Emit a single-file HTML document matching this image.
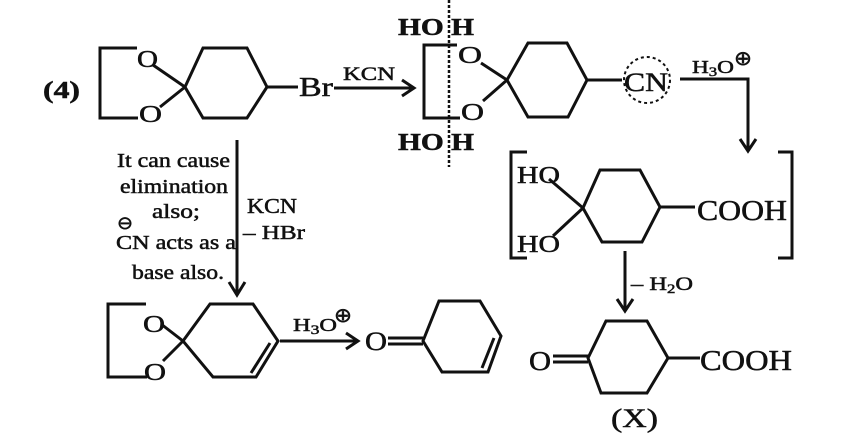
<!DOCTYPE html>
<html><head><meta charset="utf-8"><style>
html,body{margin:0;padding:0;background:#fff;}
svg{display:block;}
text{font-family:"Liberation Serif","Times New Roman",Times,serif;fill:#111;stroke:#111;stroke-width:0.5;}
</style></head><body>
<svg width="841" height="444" viewBox="0 0 841 444" xmlns="http://www.w3.org/2000/svg">
<g fill="none" stroke="#111" stroke-width="3" stroke-linejoin="miter">
<polyline points="137,48 100,48 100,118 138,118"/>
<line x1="153" y1="65" x2="185" y2="87"/>
<line x1="160" y1="107" x2="185" y2="87"/>
<polygon points="185,87 203,48 247,48 267,87 247,118 203,118"/>
<line x1="267" y1="87" x2="298" y2="87"/>
<line x1="334" y1="88" x2="412" y2="88"/>
<polyline points="402,80 414,88 402,96"/>
<polyline points="457,45 424,45 424,118 460,118"/>
<line x1="481" y1="63" x2="507" y2="80"/>
<line x1="483" y1="101" x2="507" y2="80"/>
<polygon points="507,80 528,43 567,43 587,80 568,117 528,117"/>
<line x1="587" y1="80" x2="622" y2="80"/>
<circle cx="647" cy="80" r="23" stroke-width="2" stroke-dasharray="3,3"/>
<line x1="449" y1="0" x2="449" y2="167" stroke-width="2.5" stroke-dasharray="3,2"/>
<polyline points="680,79 748,79 748,150"/>
<polyline points="740,139 748,151 756,139"/>
<polyline points="527,152 511,152 511,258 527,258"/>
<polyline points="778,152 792,152 792,258 778,258"/>
<line x1="549" y1="179" x2="583" y2="208"/>
<line x1="553" y1="236" x2="583" y2="208"/>
<polygon points="583,208 600,170 640,170 660,207 642,242 602,242"/>
<line x1="660" y1="207" x2="695" y2="207"/>
<line x1="625" y1="251" x2="625" y2="310"/>
<polyline points="617,299 625,311 633,299"/>
<line x1="553" y1="356" x2="588" y2="356"/>
<line x1="553" y1="362" x2="588" y2="362"/>
<polygon points="588,358 606,321 647,321 668,358 647,393 601,393"/>
<line x1="668" y1="358" x2="700" y2="358"/>
<line x1="237" y1="140" x2="237" y2="293"/>
<polyline points="229,282 237,295 245,282"/>
<polyline points="146,304 108,304 108,377 147,377"/>
<line x1="161" y1="324" x2="183" y2="341"/>
<line x1="163" y1="361" x2="183" y2="341"/>
<polygon points="183,341 210,304 253,304 278,341 256,377 213,377"/>
<line x1="270" y1="343" x2="251" y2="373"/>
<line x1="280" y1="341" x2="356" y2="341"/>
<polyline points="346,333 358,341 346,349"/>
<line x1="388" y1="338" x2="423" y2="338"/>
<line x1="388" y1="344" x2="423" y2="344"/>
<polygon points="423,341 439,301 480,301 501,336 488,372 442,372"/>
<line x1="494" y1="338" x2="482" y2="368"/>
</g>
<g font-size="24">
<text x="43" y="98" font-weight="bold" textLength="37" lengthAdjust="spacingAndGlyphs">(4)</text>
<text x="137" y="67" textLength="21" lengthAdjust="spacingAndGlyphs">O</text>
<text x="139" y="122" textLength="23" lengthAdjust="spacingAndGlyphs">O</text>
<text x="299" y="96" font-size="27" textLength="34" lengthAdjust="spacingAndGlyphs">Br</text>
<text x="343" y="80" font-size="19" textLength="52" lengthAdjust="spacingAndGlyphs">KCN</text>
<text x="398" y="35" font-weight="bold" textLength="76" lengthAdjust="spacingAndGlyphs">HO H</text>
<text x="398" y="150" font-weight="bold" textLength="76" lengthAdjust="spacingAndGlyphs">HO H</text>
<text x="458" y="63" textLength="24" lengthAdjust="spacingAndGlyphs">O</text>
<text x="461" y="120" textLength="23" lengthAdjust="spacingAndGlyphs">O</text>
<text x="624" y="91" font-size="26" textLength="44" lengthAdjust="spacingAndGlyphs">CN</text>
<text x="692" y="73" font-size="18" textLength="42" lengthAdjust="spacingAndGlyphs">H<tspan font-size="13" dy="3">3</tspan><tspan dy="-3">O</tspan></text>
<text x="734" y="65" font-size="20" textLength="18" lengthAdjust="spacingAndGlyphs">⊕</text>
<text x="517" y="183" textLength="43" lengthAdjust="spacingAndGlyphs">HO</text>
<text x="517" y="252" textLength="43" lengthAdjust="spacingAndGlyphs">HO</text>
<text x="697" y="220" font-size="28" textLength="90" lengthAdjust="spacingAndGlyphs">COOH</text>
<text x="631" y="290" font-size="19" textLength="62" lengthAdjust="spacingAndGlyphs">– H<tspan font-size="13" dy="3">2</tspan><tspan dy="-3">O</tspan></text>
<text x="529" y="370" font-size="27" textLength="22" lengthAdjust="spacingAndGlyphs">O</text>
<text x="700" y="370" font-size="28" textLength="92" lengthAdjust="spacingAndGlyphs">COOH</text>
<text x="611" y="427" font-size="26" textLength="47" lengthAdjust="spacingAndGlyphs">(X)</text>
<text x="117" y="167" font-size="20" textLength="113" lengthAdjust="spacingAndGlyphs">It can cause</text>
<text x="120" y="193" font-size="20" textLength="108" lengthAdjust="spacingAndGlyphs">elimination</text>
<text x="152" y="218" font-size="20" textLength="48" lengthAdjust="spacingAndGlyphs">also;</text>
<text x="117" y="229" font-size="18" textLength="16" lengthAdjust="spacingAndGlyphs">⊖</text>
<text x="116" y="249" font-size="20" textLength="120" lengthAdjust="spacingAndGlyphs">CN acts as a</text>
<text x="132" y="279" font-size="20" textLength="92" lengthAdjust="spacingAndGlyphs">base also.</text>
<text x="247" y="213" font-size="21" textLength="50" lengthAdjust="spacingAndGlyphs">KCN</text>
<text x="243" y="239" font-size="20" textLength="62" lengthAdjust="spacingAndGlyphs">– HBr</text>
<text x="143" y="332" textLength="22" lengthAdjust="spacingAndGlyphs">O</text>
<text x="144" y="380" textLength="22" lengthAdjust="spacingAndGlyphs">O</text>
<text x="293" y="331" font-size="18" textLength="44" lengthAdjust="spacingAndGlyphs">H<tspan font-size="13" dy="3">3</tspan><tspan dy="-3">O</tspan></text>
<text x="334" y="322" font-size="20" textLength="18" lengthAdjust="spacingAndGlyphs">⊕</text>
<text x="365" y="350" font-size="26" textLength="22" lengthAdjust="spacingAndGlyphs">O</text>
</g>
</svg>
</body></html>
